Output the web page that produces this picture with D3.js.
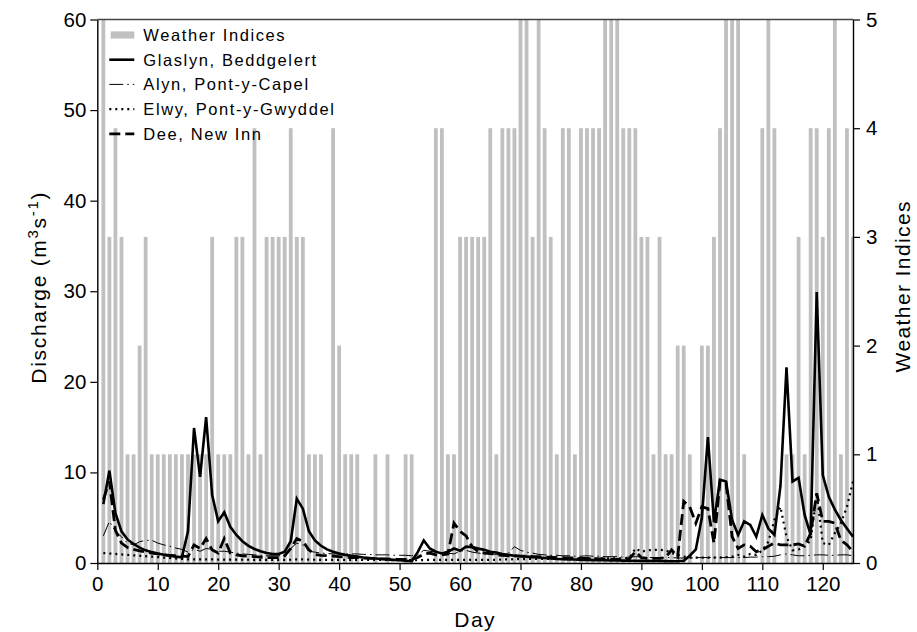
<!DOCTYPE html>
<html>
<head>
<meta charset="utf-8">
<script src="https://cdn.jsdelivr.net/npm/d3@7"></script>
<style>
  body { margin: 0; background: #fff; }
  svg { font-family: "Liberation Sans", Arial, sans-serif; }
</style>
</head>
<body>
<div id="chart-container"></div>
<script>
// Days 1..125
const days = d3.range(1, 126);

// Weather index for each day (right axis, 0-5)
const weatherIndex = [
  5, 3, 4, 3, 1, 1, 2, 3, 1, 1, 1, 1, 1, 1, 1, 1, 1, 1, 3, 1,
  1, 1, 3, 3, 1, 4, 1, 3, 3, 3, 3, 4, 3, 3, 1, 1, 1, 0, 4, 2,
  1, 1, 1, 0, 0, 1, 0, 1, 0, 0, 1, 1, 0, 0, 0, 4, 4, 1, 1, 3,
  3, 3, 3, 3, 4, 1, 4, 4, 4, 5, 5, 3, 5, 4, 3, 1, 4, 4, 1, 4,
  4, 4, 4, 5, 5, 5, 4, 4, 4, 3, 3, 1, 3, 1, 1, 2, 2, 1, 0, 2,
  2, 3, 4, 5, 5, 5, 1, 0, 0, 4, 5, 4, 0, 1, 1, 3, 1, 4, 4, 3,
  4, 5, 1, 4, 3
];

// Discharge (m3 s-1)
const glaslyn = [
  6.5, 10.2, 5.5, 3.5, 2.6, 2.1, 1.7, 1.4, 1.2, 1.05, 0.92, 0.8, 0.7, 0.63, 3.5, 14.9, 9.5, 16.1, 7.5, 4.6,
  5.6, 4.0, 3.1, 2.4, 1.9, 1.55, 1.3, 1.1, 1.0, 1.0, 1.25, 2.4, 7.1, 6.0, 3.5, 2.5, 1.9, 1.5, 1.25, 1.05,
  0.9, 0.8, 0.7, 0.6, 0.55, 0.5, 0.45, 0.4, 0.35, 0.3, 0.25, 0.2, 1.2, 2.5, 1.6, 1.25, 1.05, 1.25, 1.6, 1.35,
  1.8, 1.75, 1.6, 1.45, 1.25, 1.15, 1.0, 0.9, 0.8, 0.75, 0.7, 0.65, 0.6, 0.55, 0.5, 0.45, 0.42, 0.4, 0.38, 0.35,
  0.33, 0.32, 0.3, 0.3, 0.28, 0.27, 0.26, 0.25, 0.25, 0.24, 0.23, 0.22, 0.22, 0.21, 0.2, 0.2, 0.25, 0.8, 1.5, 5.0,
  13.9, 4.5, 9.2, 9.0, 4.75, 3.1, 4.6, 4.2, 2.9, 5.3, 3.8, 3.1, 8.5, 21.6, 9.0, 9.4, 5.3, 3.1, 29.9, 9.7,
  7.3, 5.9, 4.75, 3.8, 2.9
];

const alyn = [
  3.0, 4.6, 3.5, 2.9, 2.2, 2.0, 2.35, 2.5, 2.5, 2.2, 2.0, 1.85, 1.65, 1.5, 1.2, 1.5, 1.3, 1.6, 1.5, 1.3,
  1.3, 1.2, 1.1, 1.0, 0.95, 0.9, 0.85, 0.8, 0.8, 0.8, 0.9, 1.6, 2.2, 2.0, 1.3, 1.2, 1.1, 1.05, 1.0, 1.0,
  1.0, 1.0, 1.0, 0.95, 0.95, 0.9, 0.9, 0.9, 0.85, 0.85, 0.85, 0.8, 0.9, 1.4, 1.3, 1.2, 1.1, 1.1, 1.0, 1.3,
  1.4, 1.2, 1.1, 1.0, 1.0, 0.95, 0.9, 1.1, 1.8, 1.4, 1.2, 1.1, 0.95, 0.9, 0.85, 0.85, 0.8, 0.8, 0.75, 0.75,
  0.8, 0.75, 0.75, 0.7, 0.7, 0.7, 0.65, 0.65, 0.7, 0.65, 0.6, 0.6, 0.6, 0.6, 0.6, 0.55, 0.55, 0.55, 0.6, 0.6,
  0.6, 0.65, 0.6, 0.6, 0.6, 0.6, 0.6, 0.65, 0.65, 0.7, 0.7, 0.75, 0.9, 1.0, 0.9, 0.8, 0.8, 0.85, 0.9, 0.9,
  0.85, 0.85, 0.9, 0.9, 0.8
];

const elwy = [
  1.1, 1.05, 1.0, 0.95, 0.9, 0.85, 0.8, 0.75, 0.7, 0.65, 0.6, 0.55, 0.5, 0.45, 0.4, 0.4, 0.4, 0.4, 0.4, 0.38,
  0.38, 0.37, 0.37, 0.36, 0.36, 0.35, 0.35, 0.35, 0.35, 0.35, 0.35, 0.36, 0.4, 0.4, 0.38, 0.36, 0.35, 0.35, 0.35, 0.35,
  0.35, 0.35, 0.35, 0.34, 0.34, 0.33, 0.33, 0.33, 0.32, 0.32, 0.32, 0.31, 0.3, 0.33, 0.34, 0.35, 0.35, 0.35, 0.35, 0.35,
  0.35, 0.35, 0.35, 0.35, 0.35, 0.35, 0.4, 0.4, 0.42, 0.42, 0.44, 0.44, 0.45, 0.45, 0.45, 0.46, 0.46, 0.47, 0.47, 0.48,
  0.48, 0.48, 0.5, 0.5, 0.5, 0.5, 0.5, 0.55, 1.6, 1.25, 1.4, 1.45, 1.45, 1.4, 1.1, 0.9, 0.7, 0.6, 0.6, 0.6,
  0.6, 0.6, 0.6, 0.65, 0.7, 0.9, 0.7, 1.0, 0.9, 1.4, 2.35, 4.75, 6.2, 2.9, 1.4, 1.5, 1.8, 2.5, 7.7, 2.2,
  2.0, 3.3, 4.4, 6.2, 9.0
];

const dee = [
  7.0, 9.0, 3.6, 2.2, 1.7, 1.5, 1.35, 1.2, 1.1, 1.0, 0.9, 0.85, 0.8, 0.75, 0.7, 2.0, 1.6, 2.7, 1.45, 1.1,
  2.7, 1.1, 0.9, 0.8, 0.75, 0.7, 0.65, 0.6, 0.6, 0.6, 0.8, 1.6, 2.7, 2.4, 1.45, 0.95, 0.85, 0.8, 0.75, 0.7,
  0.65, 0.6, 0.6, 0.55, 0.5, 0.5, 0.45, 0.45, 0.4, 0.4, 0.4, 0.4, 0.6, 1.0, 1.1, 0.9, 0.9, 1.0, 4.4, 3.5,
  3.0, 1.8, 1.25, 1.1, 1.05, 0.9, 0.85, 0.8, 0.8, 0.75, 0.75, 0.7, 0.7, 0.65, 0.65, 0.6, 0.6, 0.55, 0.55, 0.5,
  0.5, 0.5, 0.45, 0.45, 0.4, 0.4, 0.4, 0.45, 1.25, 0.6, 0.5, 0.5, 0.5, 0.6, 1.45, 0.7, 6.8, 6.2, 4.4, 6.2,
  6.0, 2.2, 9.0, 8.8, 2.9, 1.6, 2.0, 1.85, 1.25, 1.45, 1.85, 2.2, 2.0, 2.0, 2.0, 2.1, 1.85, 3.3, 7.7, 4.6,
  4.6, 4.4, 2.5, 2.0, 1.25
];

const xTicks = d3.range(0, 121, 10);
const yTicks = d3.range(0, 61, 10);
const y2Ticks = d3.range(0, 6, 1);

const series = [
  { name: "Glaslyn, Beddgelert", values: glaslyn, width: 2.6, dash: null },
  { name: "Alyn, Pont-y-Capel", values: alyn, width: 1, dash: "14,4,1.5,4" },
  { name: "Elwy, Pont-y-Gwyddel", values: elwy, width: 2.2, dash: "2,4" },
  { name: "Dee, New Inn", values: dee, width: 2.8, dash: "11,5" }
];

/**************************************************
 * Rendering
 **************************************************/

const W = 917, H = 632;
const margin = { top: 19.5, right: 64, bottom: 69, left: 97.3 };

const svg = d3.select("#chart-container")
  .append("svg")
  .attr("width", W)
  .attr("height", H);

const xScale = d3.scaleLinear().domain([0, 125]).range([margin.left, W - margin.right]);
const yScale = d3.scaleLinear().domain([0, 60]).range([H - margin.bottom, margin.top]);
const y2Scale = d3.scaleLinear().domain([0, 5]).range([H - margin.bottom, margin.top]);

svg.append("clipPath").attr("id", "plot-clip")
  .append("rect")
  .attr("x", margin.left)
  .attr("y", margin.top)
  .attr("width", W - margin.right - margin.left)
  .attr("height", H - margin.bottom - margin.top);

// weather bars
const barW = 3.8;
svg.append("g")
  .attr("clip-path", "url(#plot-clip)")
  .selectAll("rect")
  .data(days.map((d, i) => ({ day: d, v: weatherIndex[i] })).filter(d => d.v > 0))
  .enter()
  .append("rect")
  .attr("x", d => xScale(d.day) - barW / 2)
  .attr("y", d => y2Scale(d.v))
  .attr("width", barW)
  .attr("height", d => y2Scale(0) - y2Scale(d.v))
  .attr("fill", "#c0c0c0");

// discharge lines
const line = d3.line()
  .x((v, i) => xScale(days[i]))
  .y(v => yScale(v));

const lines = svg.append("g").attr("clip-path", "url(#plot-clip)");
series.forEach(s => {
  lines.append("path")
    .attr("d", line(s.values))
    .attr("fill", "none")
    .attr("stroke", "#000")
    .attr("stroke-width", s.width)
    .attr("stroke-linejoin", "miter")
    .attr("stroke-dasharray", s.dash);
});

// axes
const xAxis = svg.append("g")
  .attr("transform", `translate(0,${H - margin.bottom})`)
  .call(d3.axisBottom(xScale).tickValues(xTicks).tickSize(7).tickSizeOuter(0).tickPadding(6));

const yAxis = svg.append("g")
  .attr("transform", `translate(${margin.left},0)`)
  .call(d3.axisLeft(yScale).tickValues(yTicks).tickSize(7).tickSizeOuter(0).tickPadding(4));

const y2Axis = svg.append("g")
  .attr("transform", `translate(${W - margin.right},0)`)
  .call(d3.axisRight(y2Scale).tickValues(y2Ticks).tickFormat(d3.format("d"))
    .tickSize(7).tickSizeOuter(0).tickPadding(6));

[xAxis, yAxis, y2Axis].forEach(a => {
  a.selectAll("text").attr("font-size", "20.5px").attr("fill", "#000")
    .attr("font-family", "Liberation Sans, Arial, sans-serif");
  a.selectAll("line").attr("stroke", "#000").attr("stroke-width", 1.2);
  a.select(".domain").attr("stroke", "#000").attr("stroke-width", 1.4);
});

// top frame line
svg.append("line")
  .attr("x1", margin.left).attr("x2", W - margin.right)
  .attr("y1", margin.top).attr("y2", margin.top)
  .attr("stroke", "#444").attr("stroke-width", 1.4);

// axis titles
svg.append("text")
  .attr("x", (margin.left + W - margin.right) / 2)
  .attr("y", 627)
  .attr("text-anchor", "middle")
  .attr("font-size", "21px")
  .attr("letter-spacing", "1.5px")
  .text("Day");

const yTitle = svg.append("text")
  .attr("transform", `translate(46,${(margin.top + H - margin.bottom) / 2 - 4}) rotate(-90)`)
  .attr("text-anchor", "middle")
  .attr("font-size", "21px")
  .attr("letter-spacing", "1.7px");
yTitle.append("tspan").text("Discharge (m");
yTitle.append("tspan").attr("font-size", "15px").attr("dy", -8).text("3");
yTitle.append("tspan").attr("dy", 8).text("s");
yTitle.append("tspan").attr("font-size", "15px").attr("dy", -8).text("-1");
yTitle.append("tspan").attr("dy", 8).text(")");

svg.append("text")
  .attr("transform", `translate(910,${(margin.top + H - margin.bottom) / 2 - 5}) rotate(-90)`)
  .attr("text-anchor", "middle")
  .attr("font-size", "21px")
  .attr("letter-spacing", "1.4px")
  .text("Weather Indices");

// legend
const legend = svg.append("g").attr("transform", "translate(108,35)");
const rowH = 24.7;

legend.append("rect")
  .attr("x", 2.7).attr("y", -3.6)
  .attr("width", 23.6).attr("height", 7.2)
  .attr("fill", "#c0c0c0");
legend.append("text")
  .attr("x", 35.3).attr("y", 6)
  .attr("font-size", "16.5px")
  .attr("letter-spacing", "1.6px")
  .text("Weather Indices");

series.forEach((s, i) => {
  const row = legend.append("g").attr("transform", `translate(0,${(i + 1) * rowH})`);
  row.append("line")
    .attr("x1", 1.3).attr("x2", 26.3)
    .attr("y1", 0).attr("y2", 0)
    .attr("stroke", "#000")
    .attr("stroke-width", s.width)
    .attr("stroke-dasharray", s.dash);
  row.append("text")
    .attr("x", 35.3).attr("y", 6)
    .attr("font-size", "16.5px")
    .attr("letter-spacing", "1.6px")
    .text(s.name);
});
</script>
</body>
</html>
